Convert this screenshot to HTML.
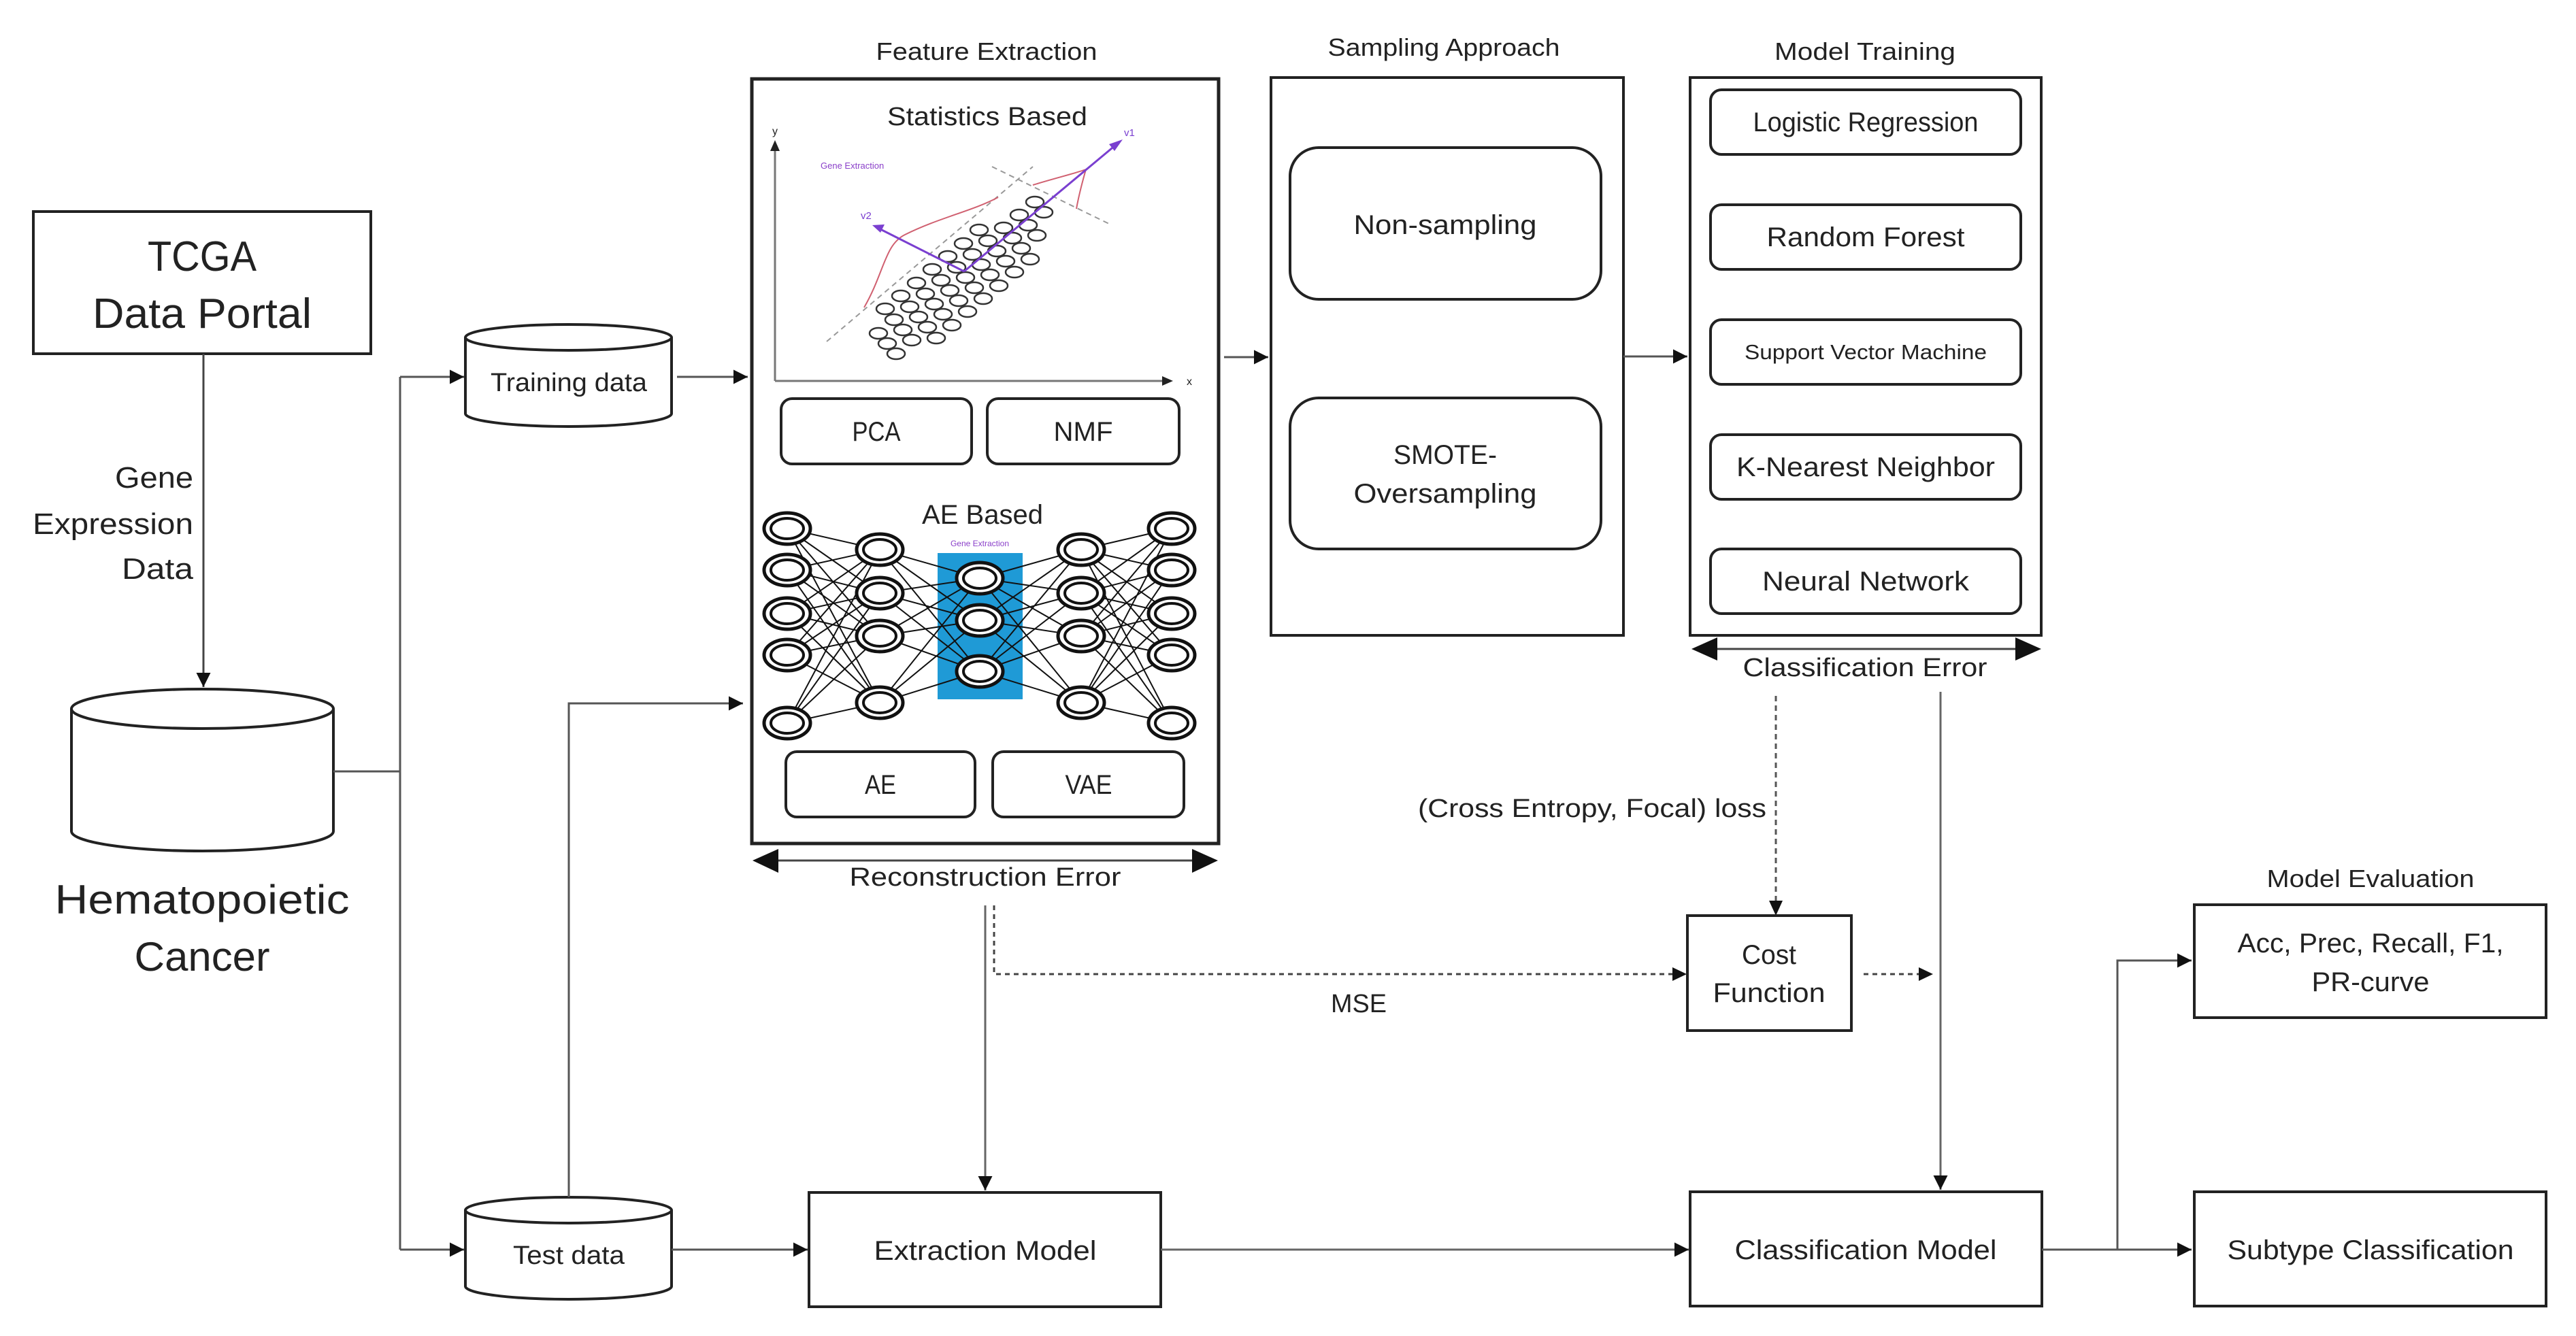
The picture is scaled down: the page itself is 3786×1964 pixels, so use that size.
<!DOCTYPE html>
<html><head><meta charset="utf-8"><style>
html,body{margin:0;padding:0;background:#fff;}
svg{display:block;}
text{font-family:"Liberation Sans",sans-serif;fill:#222;}
</style></head><body>
<svg width="3786" height="1964" viewBox="0 0 3786 1964" xmlns="http://www.w3.org/2000/svg">
<defs>
<marker id="a" viewBox="0 0 10 10" refX="10" refY="5" markerWidth="7" markerHeight="7" markerUnits="strokeWidth" orient="auto"><path d="M0,0 L10,5 L0,10 z" fill="#111"/></marker>
<marker id="ab" viewBox="0 0 10 10" refX="10" refY="5" markerWidth="7" markerHeight="7" markerUnits="strokeWidth" orient="auto"><path d="M0,0 L10,5 L0,10 z" fill="#111"/></marker>
<g id="nd"><ellipse rx="34" ry="23" fill="#fff" stroke="#111" stroke-width="5"/><ellipse rx="24" ry="15" fill="#fff" stroke="#111" stroke-width="4"/></g>
</defs>

<!-- TCGA -->
<rect x="49" y="311" width="496" height="209" fill="#fff" stroke="#222" stroke-width="4"/>
<text x="297" y="398" font-size="62" text-anchor="middle" textLength="160" lengthAdjust="spacingAndGlyphs">TCGA</text>
<text x="297" y="482" font-size="62" text-anchor="middle" textLength="322" lengthAdjust="spacingAndGlyphs">Data Portal</text>
<line x1="299" y1="520" x2="299" y2="1010" stroke="#444" stroke-width="3" marker-end="url(#a)"/>
<text x="284" y="717" font-size="44" text-anchor="end" textLength="115" lengthAdjust="spacingAndGlyphs">Gene</text>
<text x="284" y="785" font-size="44" text-anchor="end" textLength="236" lengthAdjust="spacingAndGlyphs">Expression</text>
<text x="284" y="851" font-size="44" text-anchor="end" textLength="105" lengthAdjust="spacingAndGlyphs">Data</text>

<!-- Hematopoietic cylinder -->
<path d="M105,1042 L105,1222 A192.5,29 0 0 0 490,1222 L490,1042" fill="#fff" stroke="#222" stroke-width="4"/>
<ellipse cx="297.5" cy="1042" rx="192.5" ry="29" fill="#fff" stroke="#222" stroke-width="4"/>
<text x="297" y="1343" font-size="60" text-anchor="middle" textLength="433" lengthAdjust="spacingAndGlyphs">Hematopoietic</text>
<text x="297" y="1427" font-size="60" text-anchor="middle" textLength="199" lengthAdjust="spacingAndGlyphs">Cancer</text>

<!-- branches -->
<polyline points="490,1134 588,1134" fill="none" stroke="#555" stroke-width="3"/>
<polyline points="588,554 588,1837" fill="none" stroke="#555" stroke-width="3"/>
<line x1="588" y1="554" x2="682" y2="554" stroke="#555" stroke-width="3" marker-end="url(#a)"/>
<line x1="588" y1="1837" x2="682" y2="1837" stroke="#555" stroke-width="3" marker-end="url(#a)"/>

<!-- Training data -->
<path d="M684,496 L684,608 A151.5,19 0 0 0 987,608 L987,496" fill="#fff" stroke="#222" stroke-width="4"/>
<ellipse cx="835.5" cy="496" rx="151.5" ry="19" fill="#fff" stroke="#222" stroke-width="4"/>
<text x="836" y="575" font-size="38" text-anchor="middle" textLength="230" lengthAdjust="spacingAndGlyphs">Training data</text>
<line x1="995" y1="554" x2="1099" y2="554" stroke="#555" stroke-width="3" marker-end="url(#a)"/>

<!-- Test data -->
<path d="M684,1779 L684,1891 A151.5,19 0 0 0 987,1891 L987,1779" fill="#fff" stroke="#222" stroke-width="4"/>
<ellipse cx="835.5" cy="1779" rx="151.5" ry="19" fill="#fff" stroke="#222" stroke-width="4"/>
<text x="836" y="1858" font-size="38" text-anchor="middle" textLength="164" lengthAdjust="spacingAndGlyphs">Test data</text>
<polyline points="836,1760 836,1034 1092,1034" fill="none" stroke="#555" stroke-width="3" marker-end="url(#a)"/>
<line x1="987" y1="1837" x2="1187" y2="1837" stroke="#555" stroke-width="3" marker-end="url(#a)"/>

<!-- Feature Extraction -->
<text x="1450" y="88" font-size="36" text-anchor="middle" textLength="325" lengthAdjust="spacingAndGlyphs">Feature Extraction</text>
<rect x="1105" y="116" width="686" height="1124" fill="#fff" stroke="#222" stroke-width="5"/>
<text x="1451" y="184" font-size="38" text-anchor="middle" textLength="294" lengthAdjust="spacingAndGlyphs">Statistics Based</text>
<!-- plot -->
<line x1="1139" y1="560" x2="1139" y2="218" stroke="#777" stroke-width="3"/>
<path d="M1132,222 L1139,206 L1146,222 z" fill="#222"/>
<line x1="1139" y1="560" x2="1712" y2="560" stroke="#777" stroke-width="3"/>
<path d="M1708,553 L1724,560 L1708,567 z" fill="#222"/>
<text x="1139" y="198" font-size="16" text-anchor="middle">y</text>
<text x="1748" y="566" font-size="16" text-anchor="middle">x</text>
<text x="1206" y="248" font-size="13" fill="#8a3fc9" style="fill:#8a3fc9">Gene Extraction</text>
<line x1="1215" y1="502" x2="1518" y2="245" stroke="#999" stroke-width="2" stroke-dasharray="8,6"/>
<line x1="1458" y1="245" x2="1632" y2="330" stroke="#999" stroke-width="2" stroke-dasharray="8,6"/>
<path d="M1270,452 C1300,400 1300,360 1330,345 C1380,320 1430,310 1467,290" fill="none" stroke="#d06070" stroke-width="2"/>
<path d="M1518,272 C1550,262 1580,255 1596,249 C1590,270 1585,290 1582,307" fill="none" stroke="#d06070" stroke-width="2"/>
<g fill="#fff" stroke="#333" stroke-width="2.5">
<ellipse cx="1291" cy="490" rx="13" ry="8"/><ellipse cx="1304" cy="505" rx="13" ry="8"/><ellipse cx="1317" cy="520" rx="13" ry="8"/>
<ellipse cx="1301" cy="454" rx="13" ry="8"/><ellipse cx="1314" cy="470" rx="13" ry="8"/><ellipse cx="1327" cy="485" rx="13" ry="8"/><ellipse cx="1340" cy="500" rx="13" ry="8"/>
<ellipse cx="1324" cy="435" rx="13" ry="8"/><ellipse cx="1337" cy="451" rx="13" ry="8"/><ellipse cx="1350" cy="466" rx="13" ry="8"/><ellipse cx="1363" cy="481" rx="13" ry="8"/><ellipse cx="1376" cy="497" rx="13" ry="8"/>
<ellipse cx="1347" cy="416" rx="13" ry="8"/><ellipse cx="1360" cy="432" rx="13" ry="8"/><ellipse cx="1373" cy="447" rx="13" ry="8"/><ellipse cx="1386" cy="462" rx="13" ry="8"/><ellipse cx="1399" cy="478" rx="13" ry="8"/>
<ellipse cx="1370" cy="396" rx="13" ry="8"/><ellipse cx="1383" cy="412" rx="13" ry="8"/><ellipse cx="1396" cy="427" rx="13" ry="8"/><ellipse cx="1409" cy="442" rx="13" ry="8"/><ellipse cx="1422" cy="458" rx="13" ry="8"/>
<ellipse cx="1393" cy="377" rx="13" ry="8"/><ellipse cx="1406" cy="393" rx="13" ry="8"/><ellipse cx="1419" cy="408" rx="13" ry="8"/><ellipse cx="1432" cy="423" rx="13" ry="8"/><ellipse cx="1445" cy="439" rx="13" ry="8"/>
<ellipse cx="1416" cy="358" rx="13" ry="8"/><ellipse cx="1429" cy="374" rx="13" ry="8"/><ellipse cx="1442" cy="389" rx="13" ry="8"/><ellipse cx="1455" cy="404" rx="13" ry="8"/><ellipse cx="1468" cy="420" rx="13" ry="8"/>
<ellipse cx="1439" cy="338" rx="13" ry="8"/><ellipse cx="1452" cy="354" rx="13" ry="8"/><ellipse cx="1465" cy="369" rx="13" ry="8"/><ellipse cx="1478" cy="384" rx="13" ry="8"/><ellipse cx="1491" cy="400" rx="13" ry="8"/>
<ellipse cx="1475" cy="335" rx="13" ry="8"/><ellipse cx="1488" cy="350" rx="13" ry="8"/><ellipse cx="1501" cy="365" rx="13" ry="8"/><ellipse cx="1514" cy="381" rx="13" ry="8"/>
<ellipse cx="1498" cy="316" rx="13" ry="8"/><ellipse cx="1511" cy="331" rx="13" ry="8"/><ellipse cx="1524" cy="346" rx="13" ry="8"/>
<ellipse cx="1521" cy="297" rx="13" ry="8"/><ellipse cx="1534" cy="312" rx="13" ry="8"/>
</g>
<line x1="1417" y1="399" x2="1640" y2="213" stroke="#7a3fd0" stroke-width="3"/>
<path d="M1650,205 L1630,212 L1638,222 z" fill="#7a3fd0"/>
<line x1="1417" y1="399" x2="1290" y2="335" stroke="#7a3fd0" stroke-width="3"/>
<path d="M1282,331 L1300,330 L1294,342 z" fill="#7a3fd0"/>
<text x="1265" y="322" font-size="15" style="fill:#7a3fd0">v2</text>
<text x="1652" y="200" font-size="15" style="fill:#7a3fd0">v1</text>

<rect x="1148" y="586" width="280" height="96" rx="16" fill="#fff" stroke="#222" stroke-width="4"/>
<text x="1288" y="648" font-size="40" text-anchor="middle" textLength="71" lengthAdjust="spacingAndGlyphs">PCA</text>
<rect x="1451" y="586" width="282" height="96" rx="16" fill="#fff" stroke="#222" stroke-width="4"/>
<text x="1592" y="648" font-size="40" text-anchor="middle" textLength="87" lengthAdjust="spacingAndGlyphs">NMF</text>

<!-- AE based -->
<text x="1444" y="770" font-size="40" text-anchor="middle" textLength="178" lengthAdjust="spacingAndGlyphs">AE Based</text>
<rect x="1378" y="813" width="125" height="215" fill="#1f9ad6"/>
<text x="1440" y="803" font-size="12" text-anchor="middle" style="fill:#8a3fc9">Gene Extraction</text>
<g stroke="#111" stroke-width="2">
<path d="M1157,777 L1293,808 M1157,777 L1293,872 M1157,777 L1293,935 M1157,777 L1293,1033
M1157,838 L1293,808 M1157,838 L1293,872 M1157,838 L1293,935 M1157,838 L1293,1033
M1157,902 L1293,808 M1157,902 L1293,872 M1157,902 L1293,935 M1157,902 L1293,1033
M1157,963 L1293,808 M1157,963 L1293,872 M1157,963 L1293,935 M1157,963 L1293,1033
M1157,1063 L1293,808 M1157,1063 L1293,872 M1157,1063 L1293,935 M1157,1063 L1293,1033
M1293,808 L1440,850 M1293,808 L1440,912 M1293,808 L1440,987
M1293,872 L1440,850 M1293,872 L1440,912 M1293,872 L1440,987
M1293,935 L1440,850 M1293,935 L1440,912 M1293,935 L1440,987
M1293,1033 L1440,850 M1293,1033 L1440,912 M1293,1033 L1440,987
M1440,850 L1589,808 M1440,850 L1589,872 M1440,850 L1589,935 M1440,850 L1589,1033
M1440,912 L1589,808 M1440,912 L1589,872 M1440,912 L1589,935 M1440,912 L1589,1033
M1440,987 L1589,808 M1440,987 L1589,872 M1440,987 L1589,935 M1440,987 L1589,1033
M1589,808 L1722,777 M1589,808 L1722,838 M1589,808 L1722,902 M1589,808 L1722,963 M1589,808 L1722,1063
M1589,872 L1722,777 M1589,872 L1722,838 M1589,872 L1722,902 M1589,872 L1722,963 M1589,872 L1722,1063
M1589,935 L1722,777 M1589,935 L1722,838 M1589,935 L1722,902 M1589,935 L1722,963 M1589,935 L1722,1063
M1589,1033 L1722,777 M1589,1033 L1722,838 M1589,1033 L1722,902 M1589,1033 L1722,963 M1589,1033 L1722,1063"/>
</g>
<use href="#nd" x="1157" y="777"/><use href="#nd" x="1157" y="838"/><use href="#nd" x="1157" y="902"/><use href="#nd" x="1157" y="963"/><use href="#nd" x="1157" y="1063"/>
<use href="#nd" x="1293" y="808"/><use href="#nd" x="1293" y="872"/><use href="#nd" x="1293" y="935"/><use href="#nd" x="1293" y="1033"/>
<use href="#nd" x="1440" y="850"/><use href="#nd" x="1440" y="912"/><use href="#nd" x="1440" y="987"/>
<use href="#nd" x="1589" y="808"/><use href="#nd" x="1589" y="872"/><use href="#nd" x="1589" y="935"/><use href="#nd" x="1589" y="1033"/>
<use href="#nd" x="1722" y="777"/><use href="#nd" x="1722" y="838"/><use href="#nd" x="1722" y="902"/><use href="#nd" x="1722" y="963"/><use href="#nd" x="1722" y="1063"/>

<rect x="1155" y="1105" width="278" height="96" rx="16" fill="#fff" stroke="#222" stroke-width="4"/>
<text x="1294" y="1167" font-size="40" text-anchor="middle" textLength="46" lengthAdjust="spacingAndGlyphs">AE</text>
<rect x="1459" y="1105" width="281" height="96" rx="16" fill="#fff" stroke="#222" stroke-width="4"/>
<text x="1600" y="1167" font-size="40" text-anchor="middle" textLength="69" lengthAdjust="spacingAndGlyphs">VAE</text>

<!-- Reconstruction error -->
<line x1="1140" y1="1265" x2="1755" y2="1265" stroke="#444" stroke-width="3"/>
<path d="M1106,1265 L1144,1248 L1144,1283 z" fill="#111"/>
<path d="M1790,1265 L1752,1248 L1752,1283 z" fill="#111"/>
<text x="1448" y="1302" font-size="38" text-anchor="middle" textLength="399" lengthAdjust="spacingAndGlyphs">Reconstruction Error</text>
<line x1="1448" y1="1331" x2="1448" y2="1750" stroke="#666" stroke-width="3" marker-end="url(#a)"/>
<polyline points="1461,1331 1461,1432 2474,1432" fill="none" stroke="#444" stroke-width="3" stroke-dasharray="7,6"/>
<path d="M2479,1432 L2458,1422 L2458,1442 z" fill="#111"/>
<text x="1997" y="1488" font-size="38" text-anchor="middle" textLength="82" lengthAdjust="spacingAndGlyphs">MSE</text>

<!-- Extraction Model -->
<rect x="1189" y="1753" width="517" height="168" fill="#fff" stroke="#222" stroke-width="4"/>
<text x="1448" y="1852" font-size="40" text-anchor="middle" textLength="327" lengthAdjust="spacingAndGlyphs">Extraction Model</text>
<line x1="1706" y1="1837" x2="2482" y2="1837" stroke="#666" stroke-width="3" marker-end="url(#a)"/>

<!-- FE -> Sampling -->
<line x1="1799" y1="525" x2="1864" y2="525" stroke="#555" stroke-width="3" marker-end="url(#a)"/>

<!-- Sampling -->
<text x="2122" y="82" font-size="36" text-anchor="middle" textLength="341" lengthAdjust="spacingAndGlyphs">Sampling Approach</text>
<rect x="1868" y="114" width="518" height="820" fill="#fff" stroke="#222" stroke-width="4"/>
<rect x="1896" y="217" width="457" height="223" rx="42" fill="#fff" stroke="#222" stroke-width="4"/>
<text x="2124" y="344" font-size="40" text-anchor="middle" textLength="269" lengthAdjust="spacingAndGlyphs">Non-sampling</text>
<rect x="1896" y="585" width="457" height="222" rx="42" fill="#fff" stroke="#222" stroke-width="4"/>
<text x="2124" y="682" font-size="40" text-anchor="middle" textLength="152" lengthAdjust="spacingAndGlyphs">SMOTE-</text>
<text x="2124" y="739" font-size="40" text-anchor="middle" textLength="269" lengthAdjust="spacingAndGlyphs">Oversampling</text>
<line x1="2386" y1="524" x2="2480" y2="524" stroke="#555" stroke-width="3" marker-end="url(#a)"/>

<!-- Model Training -->
<text x="2741" y="88" font-size="36" text-anchor="middle" textLength="266" lengthAdjust="spacingAndGlyphs">Model Training</text>
<rect x="2484" y="114" width="516" height="820" fill="#fff" stroke="#222" stroke-width="4"/>
<rect x="2514" y="132" width="456" height="95" rx="16" fill="#fff" stroke="#222" stroke-width="4"/>
<text x="2742" y="193" font-size="40" text-anchor="middle" textLength="331" lengthAdjust="spacingAndGlyphs">Logistic Regression</text>
<rect x="2514" y="301" width="456" height="95" rx="16" fill="#fff" stroke="#222" stroke-width="4"/>
<text x="2742" y="362" font-size="40" text-anchor="middle" textLength="291" lengthAdjust="spacingAndGlyphs">Random Forest</text>
<rect x="2514" y="470" width="456" height="95" rx="16" fill="#fff" stroke="#222" stroke-width="4"/>
<text x="2742" y="528" font-size="31" text-anchor="middle" textLength="356" lengthAdjust="spacingAndGlyphs">Support Vector Machine</text>
<rect x="2514" y="639" width="456" height="95" rx="16" fill="#fff" stroke="#222" stroke-width="4"/>
<text x="2742" y="700" font-size="40" text-anchor="middle" textLength="380" lengthAdjust="spacingAndGlyphs">K-Nearest Neighbor</text>
<rect x="2514" y="807" width="456" height="95" rx="16" fill="#fff" stroke="#222" stroke-width="4"/>
<text x="2742" y="868" font-size="40" text-anchor="middle" textLength="304" lengthAdjust="spacingAndGlyphs">Neural Network</text>

<!-- Classification Error -->
<line x1="2520" y1="954" x2="2965" y2="954" stroke="#444" stroke-width="3"/>
<path d="M2486,954 L2524,937 L2524,971 z" fill="#111"/>
<path d="M3000,954 L2962,937 L2962,971 z" fill="#111"/>
<text x="2741" y="994" font-size="38" text-anchor="middle" textLength="359" lengthAdjust="spacingAndGlyphs">Classification Error</text>
<line x1="2610" y1="1023" x2="2610" y2="1330" stroke="#555" stroke-width="3" stroke-dasharray="8,6"/>
<path d="M2610,1346 L2600,1324 L2620,1324 z" fill="#111"/>
<text x="2596" y="1201" font-size="38" text-anchor="end" textLength="512" lengthAdjust="spacingAndGlyphs">(Cross Entropy,  Focal) loss</text>
<line x1="2852" y1="1017" x2="2852" y2="1749" stroke="#666" stroke-width="3" marker-end="url(#a)"/>

<!-- Cost function -->
<rect x="2480" y="1346" width="241" height="169" fill="#fff" stroke="#222" stroke-width="4"/>
<text x="2600" y="1417" font-size="40" text-anchor="middle" textLength="80" lengthAdjust="spacingAndGlyphs">Cost</text>
<text x="2600" y="1473" font-size="40" text-anchor="middle" textLength="165" lengthAdjust="spacingAndGlyphs">Function</text>
<line x1="2739" y1="1432" x2="2826" y2="1432" stroke="#444" stroke-width="3" stroke-dasharray="7,6"/>
<path d="M2841,1432 L2820,1422 L2820,1442 z" fill="#111"/>

<!-- Classification Model -->
<rect x="2484" y="1752" width="517" height="168" fill="#fff" stroke="#222" stroke-width="4"/>
<text x="2742" y="1851" font-size="40" text-anchor="middle" textLength="385" lengthAdjust="spacingAndGlyphs">Classification Model</text>
<line x1="3001" y1="1837" x2="3221" y2="1837" stroke="#555" stroke-width="3" marker-end="url(#a)"/>
<polyline points="3112,1837 3112,1412 3221,1412" fill="none" stroke="#555" stroke-width="3" marker-end="url(#a)"/>

<!-- Model Evaluation -->
<text x="3484" y="1304" font-size="36" text-anchor="middle" textLength="305" lengthAdjust="spacingAndGlyphs">Model Evaluation</text>
<rect x="3225" y="1330" width="517" height="166" fill="#fff" stroke="#222" stroke-width="4"/>
<text x="3484" y="1400" font-size="40" text-anchor="middle" textLength="391" lengthAdjust="spacingAndGlyphs">Acc, Prec, Recall, F1,</text>
<text x="3484" y="1457" font-size="40" text-anchor="middle" textLength="173" lengthAdjust="spacingAndGlyphs">PR-curve</text>
<rect x="3225" y="1752" width="517" height="168" fill="#fff" stroke="#222" stroke-width="4"/>
<text x="3484" y="1851" font-size="40" text-anchor="middle" textLength="421" lengthAdjust="spacingAndGlyphs">Subtype Classification</text>
</svg>
</body></html>
